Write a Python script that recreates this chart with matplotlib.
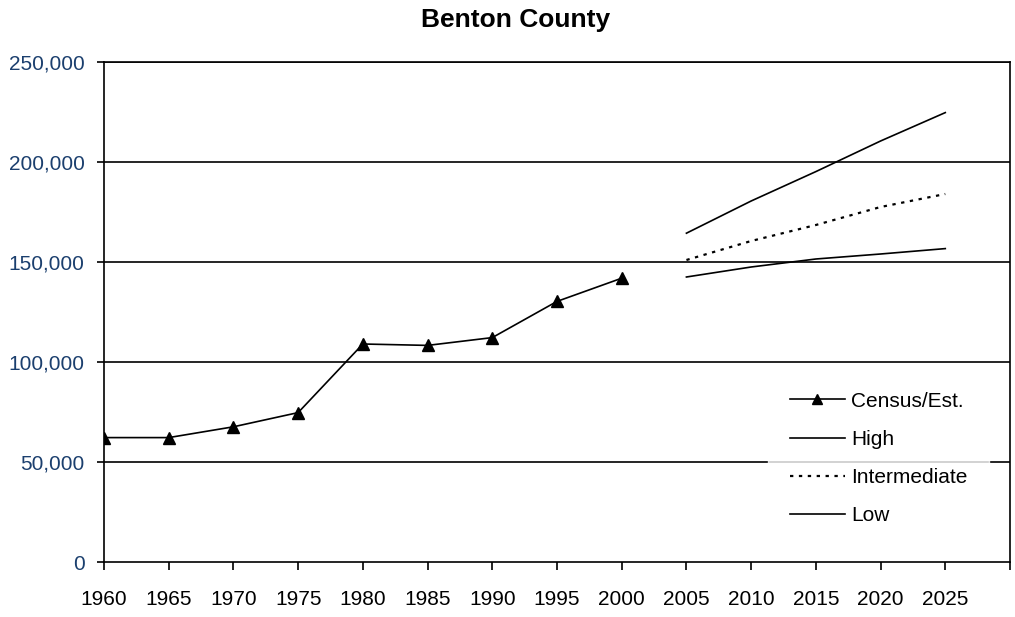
import matplotlib.pyplot as plt
from matplotlib.ticker import FuncFormatter

# census / estimates
censusYears = [1960, 1965, 1970, 1975, 1980, 1985, 1990, 1995, 2000]
censusPop   = [62200, 62200, 67600, 74700, 109000, 108300, 112200, 130300, 141900]

# projections
projYears   = [2005, 2010, 2015, 2020, 2025]
highPop     = [164400, 180500, 195200, 210500, 224700]
interPop    = [151000, 160500, 168500, 177500, 184000]
lowPop      = [142500, 147500, 151500, 154000, 156700]

xTicks      = list(range(1960, 2031, 5))
xLabels     = [str(y) if y < 2030 else "" for y in xTicks]
yTicks      = list(range(0, 250001, 50000))

plt.rcParams['font.family'] = ['Liberation Sans', 'DejaVu Sans']

fig = plt.figure(figsize=(10.15, 6.17), dpi=100)
ax = fig.add_axes([104/1015, 1 - 562/617, (1010-104)/1015, (562-62)/617])

for y in yTicks[1:]:
    ax.axhline(y, color='black', linewidth=1.2, zorder=1)

ax.plot(censusYears, censusPop, color='black', linewidth=1.2, marker='^', markersize=8,
        label='Census/Est.', zorder=3)
ax.plot(projYears, highPop, color='black', linewidth=1.2, label='High', zorder=3)
ax.plot(projYears, interPop, color='black', linewidth=1.6, linestyle=(0, (1.5, 2.5)),
        label='Intermediate', zorder=3)
ax.plot(projYears, lowPop, color='black', linewidth=1.2, label='Low', zorder=3)

ax.set_xlim(1960, 2030)
ax.set_ylim(0, 250000)
ax.set_xticks(xTicks)
ax.set_xticklabels(xLabels)
ax.set_yticks(yTicks)
ax.yaxis.set_major_formatter(FuncFormatter(lambda v, p: f"{int(v):,}"))

ax.tick_params(axis='x', direction='out', length=6, width=1.2, labelsize=15, pad=14, colors='black')
ax.tick_params(axis='y', direction='out', length=5, width=1.2, labelsize=15, pad=9)
for lbl in ax.get_yticklabels():
    lbl.set_color('#1b3f6e')

for s in ax.spines.values():
    s.set_linewidth(1.2)

leg = ax.legend(loc='upper left', bbox_to_anchor=((774-104)/906, (562-376)/500), borderaxespad=0,
                frameon=True, fontsize=15, handlelength=2.65, labelspacing=0.92,
                borderpad=0.75, handletextpad=0.3, markerscale=0.85)
leg.get_frame().set_facecolor('white')
leg.get_frame().set_edgecolor('white')
leg.get_frame().set_boxstyle('square')
leg.set_zorder(5)

fig.text(0.508, 0.968, "Benton County", ha='center', va='center', fontsize=19, fontweight='bold')

plt.savefig("out.png", dpi=100)
